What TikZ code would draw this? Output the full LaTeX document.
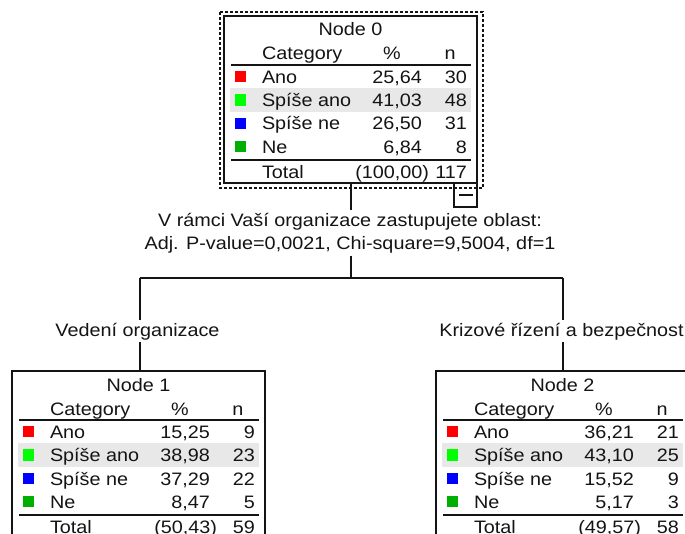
\documentclass[tikz,border=0pt]{standalone}
\usepackage{fontspec}
\setmainfont{Liberation Sans}[FakeStretch=1.1]
\definecolor{cred}{RGB}{255,0,0}
\definecolor{clgreen}{RGB}{0,255,0}
\definecolor{cblue}{RGB}{0,0,255}
\definecolor{cdgreen}{RGB}{0,176,0}
\definecolor{rowgray}{RGB}{232,232,232}
\definecolor{ink}{RGB}{20,20,20}
\newcommand\tfont{\fontsize{18}{22}\selectfont}
\tikzset{
  txt/.style={inner sep=0pt, outer sep=0pt, font=\tfont, text=ink},
  tablebox/.style={draw=ink, line width=1.3pt, anchor=north west, minimum width=253pt, minimum height=167pt, inner sep=0pt, outer sep=0pt},
  rulel/.style={draw=ink, line width=1.3pt},
  conn/.style={draw=ink, line width=1.3pt},
  lbl/.style={inner sep=0pt, outer sep=0pt, font=\tfont, text=ink},
  dashbox/.style={draw=ink, line width=1.1pt, dash pattern=on 3pt off 2pt},
  minusbox/.style={draw=ink, line width=1.2pt, minimum width=23pt, minimum height=24pt, inner sep=0pt, outer sep=0pt, anchor=north east}
}
% #1 name, #2 title, #3 rows, #4 total pct, #5 total n
\newcommand\chaidtable[5]{%
  \fill[rowgray] (6,72) rectangle (247,96);
  \node[tablebox] (#1) at (0,0) {};
  \node[txt, anchor=base] (#1-title) at (126.5,20) {#2};
  \node[txt, anchor=base west] (#1-cat) at (38,44) {Category};
  \node[txt, anchor=base] (#1-pcth) at (168,44) {\%};
  \node[txt, anchor=base] (#1-nh) at (226,44) {n};
  \draw[rulel] (7,49) -- (247,49);
  \foreach \lab/\pc/\nn/\col [count=\i] in {#3} {
    \pgfmathsetmacro\yb{67.3+23.35*(\i-1)}
    \fill[\col] (11,\yb-12.3) rectangle (22,\yb-1);
    \node[txt, anchor=base west] (#1-l\i) at (38,\yb) {\lab};
    \node[txt, anchor=base east] (#1-p\i) at (198,\yb) {\pc};
    \node[txt, anchor=base east] (#1-c\i) at (243,\yb) {\nn};
  }
  \draw[rulel] (7,144) -- (247,144);
  \node[txt, anchor=base west] (#1-tot) at (38,162.3) {Total};
  \node[txt, anchor=base east] (#1-totp) at (205,162.3) {#4};
  \node[txt, anchor=base east] (#1-totn) at (243,162.3) {#5};
}
\begin{document}
\begin{tikzpicture}[x=1pt,y=-1pt]
\useasboundingbox (0,0) rectangle (685,534);
\clip (0,0) rectangle (685,534);
\fill[white] (0,0) rectangle (685,534);

% root node
\draw[dashbox] (220,12) rectangle (483,188);
\begin{scope}[shift={(224,16)}, tablebox/.append style={line width=2.6pt}]
  \chaidtable{n0}{Node 0}{Ano/{25,64}/30/cred, Spíše ano/{41,03}/48/clgreen, Spíše ne/{26,50}/31/cblue, Ne/{6,84}/8/cdgreen}{(100,00)}{117}
\end{scope}
\node[minusbox] (collapse) at (477,183) {};
\draw[line width=1.5pt, ink] ([xshift=5pt]collapse.west) -- ([xshift=-4pt]collapse.east);

% split text
\node[lbl, anchor=base] (split1) at (350,226.7) {V rámci Vaší organizace zastupujete oblast:};
\node[lbl, anchor=base] (split2) at (350,250) {Adj. P-value=0,0021, Chi-square=9,5004, df=1};

% child nodes
\begin{scope}[shift={(12,371)}]
  \chaidtable{n1}{Node 1}{Ano/{15,25}/9/cred, Spíše ano/{38,98}/23/clgreen, Spíše ne/{37,29}/22/cblue, Ne/{8,47}/5/cdgreen}{(50,43)}{59}
\end{scope}
\begin{scope}[shift={(436,371)}]
  \chaidtable{n2}{Node 2}{Ano/{36,21}/21/cred, Spíše ano/{43,10}/25/clgreen, Spíše ne/{15,52}/9/cblue, Ne/{5,17}/3/cdgreen}{(49,57)}{58}
\end{scope}

% edge labels
\node[lbl, anchor=base] (e1) at (137.5,336.7) {Vedení organizace};
\node[lbl, anchor=base] (e2) at (561.5,336.7) {Krizové řízení a bezpečnost};

% connectors
\coordinate (jn) at (351,278);
\coordinate (lft) at (140,278);
\coordinate (rgt) at (563,278);
\draw[conn] (n0.south -| jn) -- ([yshift=3pt]split1.north -| jn);
\draw[conn] ([yshift=-2pt]split2.south -| jn) -- (jn);
\draw[conn] (lft) -- (rgt);
\draw[conn] (lft) -- ([yshift=3pt]e1.north -| lft);
\draw[conn] (rgt) -- ([yshift=3pt]e2.north -| rgt);
\draw[conn] ([yshift=-2pt]e1.south -| lft) -- (n1.north -| lft);
\draw[conn] ([yshift=-2pt]e2.south -| rgt) -- (n2.north -| rgt);
\end{tikzpicture}
\end{document}
